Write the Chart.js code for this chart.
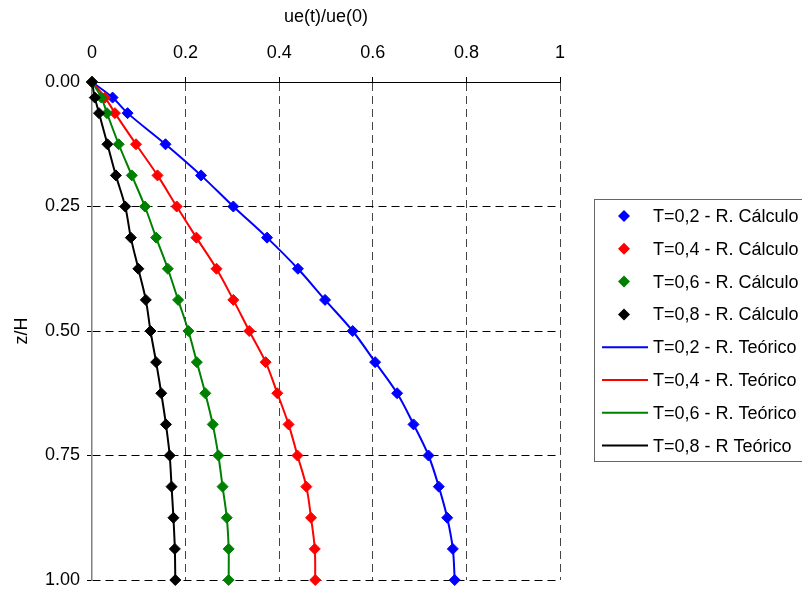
<!DOCTYPE html>
<html>
<head>
<meta charset="utf-8">
<script src="https://cdn.jsdelivr.net/npm/chart.js@4.4.0/dist/chart.umd.min.js"></script>
<style>
  html, body { margin: 0; padding: 0; background: #fff; }
  #wrap { width: 802px; height: 592px; }
</style>
</head>
<body>
<div id="wrap"><canvas id="perfil" width="802" height="592"></canvas></div>
<script>
// depth (z/H) of every computed point
const zH = [0, 0.03125, 0.0625, 0.125, 0.1875, 0.25, 0.3125, 0.375, 0.4375, 0.5,
            0.5625, 0.625, 0.6875, 0.75, 0.8125, 0.875, 0.9375, 1.0];

// ue(t)/ue(0) for each time factor
const t02 = [0, 0.044, 0.076, 0.157, 0.233, 0.302, 0.374, 0.440, 0.498, 0.557,
             0.605, 0.652, 0.687, 0.719, 0.741, 0.759, 0.771, 0.775];
const t04 = [0, 0.028, 0.049, 0.094, 0.140, 0.181, 0.223, 0.266, 0.302, 0.336,
             0.371, 0.396, 0.420, 0.439, 0.458, 0.468, 0.476, 0.477];
const t06 = [0, 0.020, 0.032, 0.057, 0.085, 0.113, 0.137, 0.162, 0.184, 0.206,
             0.224, 0.242, 0.258, 0.270, 0.279, 0.288, 0.292, 0.292];
const t08 = [0, 0.006, 0.015, 0.033, 0.051, 0.071, 0.083, 0.099, 0.115, 0.125,
             0.137, 0.148, 0.158, 0.166, 0.170, 0.174, 0.177, 0.178];

const xTicks = [0, 0.2, 0.4, 0.6, 0.8, 1];
const yTicks = [0, 0.25, 0.5, 0.75, 1];

const FONT = "'Liberation Sans', Arial, sans-serif";

const pts = vals => vals.map((v, i) => ({ x: v, y: zH[i] }));

const calc = (label, vals, color, order) => ({
    label, data: pts(vals), showLine: false, order, clip: false,
    pointStyle: 'rectRot', pointRadius: 5.5, pointHoverRadius: 5.5,
    pointBackgroundColor: color, pointBorderColor: color, pointBorderWidth: 1
});
const teo = (label, vals, color, order) => ({
    label, data: pts(vals), showLine: true, order, clip: false,
    borderColor: color, borderWidth: 2, tension: 0.35, pointRadius: 0
});

const datasets = [
    calc('T=0,2 - R. Cálculo', t02, '#0000ff', 4),
    calc('T=0,4 - R. Cálculo', t04, '#ff0000', 3),
    calc('T=0,6 - R. Cálculo', t06, '#008000', 2),
    calc('T=0,8 - R. Cálculo', t08, '#000000', 1),
    teo('T=0,2 - R. Teórico', t02, '#0000ff', 8),
    teo('T=0,4 - R. Teórico', t04, '#ff0000', 7),
    teo('T=0,6 - R. Teórico', t06, '#008000', 6),
    teo('T=0,8 - R Teórico', t08, '#000000', 5)
];

// boxed legend at the right, markers for computed series, lines for theory
const boxLegend = {
    id: 'boxLegend',
    afterDraw(chart) {
        const ctx = chart.ctx;
        const x0 = 594.5, y0 = 199.5, rowH = 32.8, first = 216;
        ctx.save();
        ctx.strokeStyle = '#666';
        ctx.lineWidth = 1;
        ctx.strokeRect(x0, y0, 230, 262);
        ctx.font = '18px ' + FONT;
        ctx.textBaseline = 'middle';
        ctx.textAlign = 'left';
        chart.data.datasets.forEach((ds, i) => {
            const y = first + i * rowH;
            if (ds.showLine) {
                ctx.strokeStyle = ds.borderColor;
                ctx.lineWidth = 2;
                ctx.beginPath();
                ctx.moveTo(602, y);
                ctx.lineTo(648, y);
                ctx.stroke();
            } else {
                const r = 6;
                ctx.fillStyle = ds.pointBackgroundColor;
                ctx.beginPath();
                ctx.moveTo(624, y - r);
                ctx.lineTo(624 + r, y);
                ctx.lineTo(624, y + r);
                ctx.lineTo(624 - r, y);
                ctx.closePath();
                ctx.fill();
            }
            ctx.fillStyle = '#000';
            ctx.fillText(ds.label, 653, y + 1);
        });
        ctx.restore();
    }
};

new Chart(document.getElementById('perfil'), {
    type: 'scatter',
    data: { datasets },
    plugins: [boxLegend],
    options: {
        responsive: false,
        animation: false,
        devicePixelRatio: 1,
        layout: { padding: { left: 0, right: 242, top: 0, bottom: 12 } },
        plugins: { legend: { display: false }, tooltip: { enabled: false } },
        scales: {
            x: {
                type: 'linear', position: 'top', min: 0, max: 1,
                afterFit: s => { s.height = 82; s.paddingLeft = 0; s.paddingRight = 0; },
                afterBuildTicks: s => { s.ticks = xTicks.map(v => ({ value: v })); },
                ticks: {
                    color: '#000', padding: 13, maxRotation: 0,
                    font: { family: FONT, size: 18 },
                    callback: v => String(v)
                },
                grid: {
                    color: c => c.tick && c.tick.value === 0 ? 'rgba(0,0,0,0)' : '#444',
                    tickColor: '#000', tickLength: 5, tickBorderDash: [],
                    lineWidth: 1
                },
                border: { display: true, color: '#000', width: 1, dash: [8, 5] },
                title: {
                    display: true, text: 'ue(t)/ue(0)', color: '#000',
                    font: { family: FONT, size: 18 }, padding: { top: 6, bottom: 0 }
                }
            },
            y: {
                type: 'linear', position: 'left', min: 0, max: 1, reverse: true,
                // keep the plot bottom fixed; the last label may hang below it
                afterFit: s => { s.width = 92; s.paddingTop = 0; s.paddingBottom = 0; },
                afterBuildTicks: s => { s.ticks = yTicks.map(v => ({ value: v })); },
                ticks: {
                    color: '#000', padding: 7,
                    font: { family: FONT, size: 18 },
                    callback: v => v.toFixed(2)
                },
                grid: {
                    color: c => c.tick && c.tick.value === 0 ? 'rgba(0,0,0,0)' : '#000',
                    tickColor: '#000', tickLength: 5, tickBorderDash: [],
                    lineWidth: 1
                },
                border: { display: true, color: '#808080', width: 1.5, dash: [8, 5] },
                title: {
                    display: true, text: 'z/H', color: '#000',
                    font: { family: FONT, size: 18 }, padding: { top: 11, bottom: 0 }
                }
            }
        }
    }
});
</script>
</body>
</html>
